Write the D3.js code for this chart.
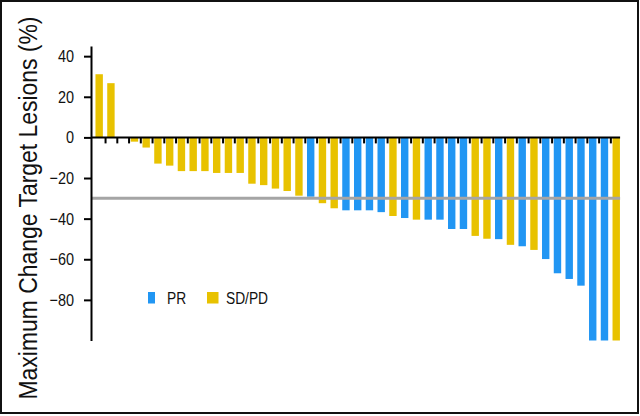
<!DOCTYPE html>
<html>
<head>
<meta charset="utf-8">
<script src="https://cdn.jsdelivr.net/npm/d3@7"></script>
<style>
  html, body { margin: 0; padding: 0; background: #fff; }
  svg { display: block; font-family: "Liberation Sans", Arial, Helvetica, sans-serif; }
</style>
</head>
<body>
<svg id="chart" width="640" height="416"></svg>
<script>
const patients = d3.range(1, 46).map(String);
const changes = [31.1, 26.7, 0, -2.1, -5.0, -12.9, -13.9, -16.6, -16.6, -16.6,
  -17.5, -17.5, -17.5, -22.8, -23.5, -25.2, -26.4, -28.7, -29.2, -32.4,
  -34.9, -35.9, -35.9, -35.9, -36.8, -38.7, -39.7, -40.5, -40.5, -40.5,
  -45.1, -45.1, -48.5, -49.9, -50.1, -52.9, -53.6, -55.4, -59.9, -66.9,
  -69.7, -73.0, -100, -100, -100];
const responses = ["SD/PD","SD/PD","SD/PD","SD/PD","SD/PD","SD/PD","SD/PD","SD/PD","SD/PD","SD/PD",
  "SD/PD","SD/PD","SD/PD","SD/PD","SD/PD","SD/PD","SD/PD","SD/PD","PR","SD/PD",
  "SD/PD","PR","PR","PR","PR","SD/PD","PR","SD/PD","PR","PR",
  "PR","PR","SD/PD","SD/PD","PR","SD/PD","PR","SD/PD","PR","PR",
  "PR","PR","PR","PR","SD/PD"];
const legendLabels = ["PR", "SD/PD"];
const yTicks = [40, 20, 0, -20, -40, -60, -80];
const threshold = -30;
const yTitle = "Maximum Change Target Lesions (%)";

const data = patients.map((p, i) => ({ id: p, value: changes[i], type: responses[i] }));
const color = d3.scaleOrdinal().domain(legendLabels).range(["#2196F3", "#E8C200"]);

const svg = d3.select("#chart");

// frame
svg.append("rect").attr("x", 1).attr("y", 1).attr("width", 637).attr("height", 412)
  .attr("fill", "none").attr("stroke", "#111").attr("stroke-width", 2);

const x = d3.scaleBand().domain(patients).range([93.3, 622.1]).paddingInner(0.37).paddingOuter(0.185);
const xb = d3.scaleLinear().domain([0, patients.length]).range([93.3, 622.1]);
const y = d3.scaleLinear().domain([-100, 45]).range([340.5, 46]);

// bars
svg.append("g").selectAll("rect").data(data).join("rect")
  .attr("x", d => x(d.id))
  .attr("width", x.bandwidth())
  .attr("y", d => y(Math.max(0, d.value)))
  .attr("height", d => Math.abs(y(d.value) - y(0)))
  .attr("fill", d => color(d.type));

// threshold line
svg.append("line")
  .attr("x1", 91).attr("x2", xb.range()[1] - 2)
  .attr("y1", y(threshold)).attr("y2", y(threshold))
  .attr("stroke", "#a5a5a5").attr("stroke-width", 3);

// x axis at zero, ticks between bars
const xAxis = svg.append("g").attr("transform", `translate(0,${y(0)})`)
  .call(d3.axisBottom(xb).tickValues(d3.range(1, patients.length)).tickSize(6).tickFormat(""));
xAxis.select(".domain").remove();
xAxis.selectAll(".tick line").attr("stroke", "#000").attr("stroke-width", 2);
svg.append("line").attr("x1", 91).attr("x2", xb.range()[1] - 2)
  .attr("y1", y(0)).attr("y2", y(0)).attr("stroke", "#000").attr("stroke-width", 2);

// y axis
const yAxis = svg.append("g").attr("transform", "translate(91,0)")
  .call(d3.axisLeft(y).tickValues(yTicks).tickSize(7).tickSizeOuter(0).tickPadding(10));
yAxis.select(".domain").attr("stroke", "#000").attr("stroke-width", 2);
yAxis.selectAll(".tick line").attr("stroke", "#000").attr("stroke-width", 2);
yAxis.selectAll(".tick text").attr("font-size", 17).attr("fill", "#111")
  .attr("font-family", "Liberation Sans, Arial, sans-serif")
  .each(function() {
    const w = this.getComputedTextLength();
    d3.select(this).attr("textLength", w * 0.85).attr("lengthAdjust", "spacingAndGlyphs");
  });

// y title
svg.append("text")
  .attr("transform", "translate(37,208) rotate(-90)")
  .attr("text-anchor", "middle")
  .attr("font-size", 25).attr("fill", "#111")
  .attr("textLength", 383).attr("lengthAdjust", "spacingAndGlyphs")
  .text(yTitle);

// legend
const legendX = [148, 207];
const legendW = [7, 11.5];
const lg = svg.append("g");
legendLabels.forEach((lab, i) => {
  lg.append("rect").attr("x", legendX[i]).attr("y", 292).attr("width", legendW[i]).attr("height", 11.5)
    .attr("fill", color(lab));
  const t = lg.append("text").attr("x", legendX[i] + 19).attr("y", 304)
    .attr("font-size", 16).attr("fill", "#111").text(lab);
  const w = t.node().getComputedTextLength();
  t.attr("textLength", w * 0.86).attr("lengthAdjust", "spacingAndGlyphs");
});
</script>
</body>
</html>
